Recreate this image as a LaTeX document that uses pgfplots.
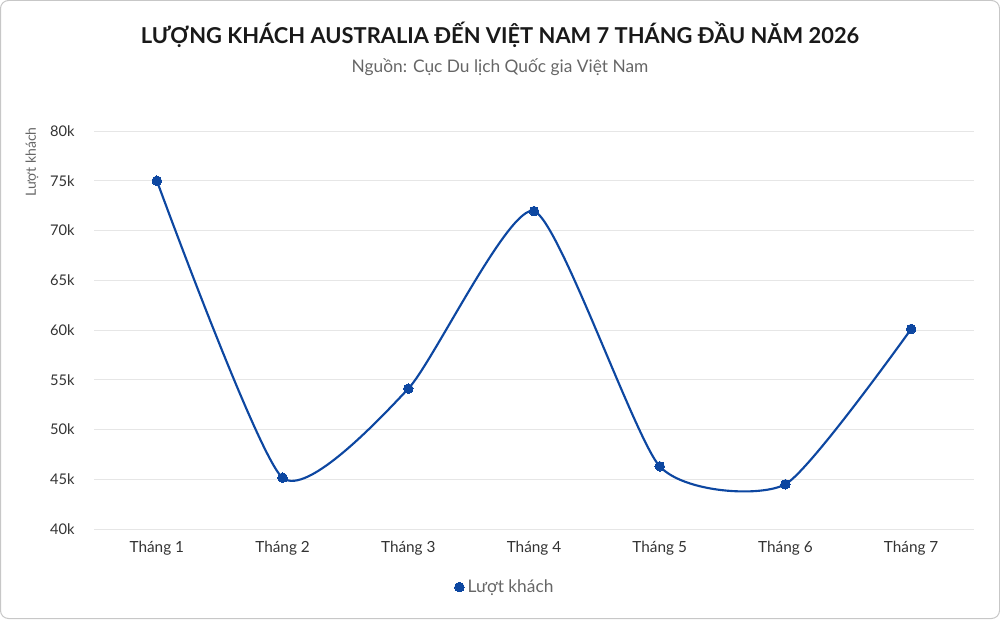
\documentclass[border=0pt]{standalone}
\usepackage{pgfplots}
\pgfplotsset{compat=1.18}
\usepackage{fontspec}
\setmainfont{Lato}
\definecolor{lineblue}{HTML}{0D47A1}
\definecolor{gridgray}{HTML}{E6E6E6}
\definecolor{txtdark}{HTML}{333333}
\definecolor{txtgray}{HTML}{666666}
\begin{document}
\begin{tikzpicture}
\draw[rounded corners=6pt, color=black!22, line width=0.75pt] (0.375pt,0.375pt) rectangle (749.625pt,463.875pt);
\node[font=\bfseries\fontsize{16.4}{19}\selectfont, text=black!90, anchor=center] at (375pt,438.5pt) {LƯỢNG KHÁCH AUSTRALIA ĐẾN VIỆT NAM 7 THÁNG ĐẦU NĂM 2026};
\node[font=\fontsize{13}{15}\selectfont, text=txtgray, anchor=center] at (375pt,414pt) {Nguồn: Cục Du lịch Quốc gia Việt Nam};
\begin{axis}[
  at={(70.5pt,67.5pt)}, anchor=south west,
  scale only axis, width=660pt, height=298.5pt,
  xmin=-0.5, xmax=6.5, ymin=40000, ymax=80000,
  scaled y ticks=false,
  axis line style={draw=none},
  tick style={draw=none},
  xtick={0,1,2,3,4,5,6},
  xticklabels={Tháng 1,Tháng 2,Tháng 3,Tháng 4,Tháng 5,Tháng 6,Tháng 7},
  ytick={40000,45000,50000,55000,60000,65000,70000,75000,80000},
  yticklabels={40k,45k,50k,55k,60k,65k,70k,75k,80k},
  ymajorgrids, grid style={gridgray, line width=0.75pt},
  ticklabel style={text=txtdark},
  yticklabel style={xshift=-11pt, font=\fontsize{11}{13}\selectfont},
  xticklabel style={yshift=-5.5pt, font=\fontsize{11.5}{13}\selectfont},
  ylabel={Lượt khách},
  ylabel style={at={(axis description cs:-0.0705,0.922)}, anchor=center, font=\fontsize{10.5}{12}\selectfont, text=txtgray},
  legend style={at={(axis description cs:0.467,-0.146)}, anchor=center, draw=none, fill=none, font=\fontsize{13}{15}\selectfont, text=txtgray, legend cell align=left},
  legend image code/.code={\draw[mark repeat=2,mark phase=2] plot coordinates {(0cm,0cm) (0.12cm,0cm) (0.24cm,0cm)};},
]
\addplot[lineblue, line width=1.6pt, smooth, tension=0.35, mark=*, mark size=3.6pt, mark options={fill=lineblue, draw=lineblue, line width=0pt}]
  coordinates {(0,75000) (1,45150) (2,54100) (3,71950) (4,46300) (5,44500) (6,60100)};
\addlegendentry{Lượt khách}
\end{axis}
\end{tikzpicture}
\end{document}
